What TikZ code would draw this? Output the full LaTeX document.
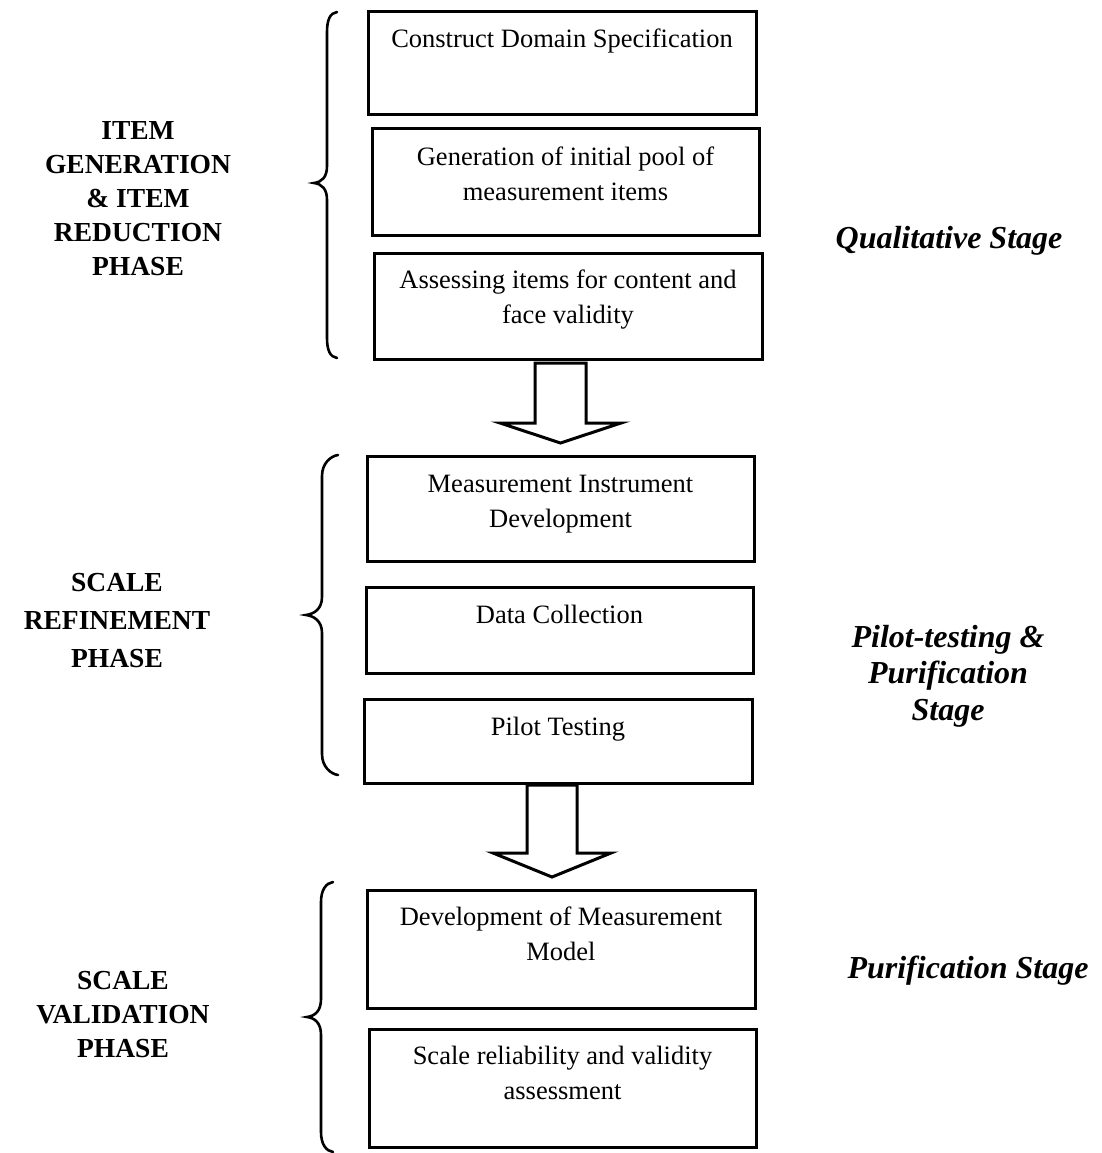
\documentclass[tikz,border=0pt]{standalone}
\usepackage{fontspec}
\setmainfont{Liberation Serif}
\usetikzlibrary{calc}
\begin{document}
\begin{tikzpicture}[x=1pt,y=-1pt,
  stepbox/.style={draw, line width=3pt, inner sep=0pt, outer sep=0pt, anchor=north west},
  boxtext/.style={anchor=base, align=center, inner sep=0pt, font=\fontsize{26.5}{35}\selectfont},
  phase/.style={anchor=base, align=center, inner sep=0pt, font=\fontsize{27.5}{34}\selectfont\bfseries},
  stage/.style={anchor=base, align=center, inner sep=0pt, font=\fontsize{32}{36.5}\selectfont\bfseries\itshape},
  brace/.style={line width=2.6pt, line cap=round},
  blockarrow/.style={draw, line width=3pt, line join=miter, fill=white}]
\useasboundingbox (0,0) rectangle (1102,1153);

% ---- step boxes ----
\node[stepbox, minimum width=388pt, minimum height=103pt] (b1) at (368,12) {};
\node[stepbox, minimum width=387pt, minimum height=106pt] (b2) at (372,129) {};
\node[stepbox, minimum width=388pt, minimum height=106pt] (b3) at (374,253) {};
\node[stepbox, minimum width=387pt, minimum height=105pt] (b4) at (367,456) {};
\node[stepbox, minimum width=387pt, minimum height=86pt]  (b5) at (366,587) {};
\node[stepbox, minimum width=388pt, minimum height=84pt]  (b6) at (364,699) {};
\node[stepbox, minimum width=388pt, minimum height=118pt] (b7) at (367,890) {};
\node[stepbox, minimum width=387pt, minimum height=118pt] (b8) at (369,1029) {};

% ---- box texts, set at the top of each box (anchor = baseline of last line) ----
\node[boxtext] (t1) at ([yshift=-36pt]b1.north) {Construct Domain Specification};
\node[boxtext] (t2) at ([yshift=-71pt]b2.north) {Generation of initial pool of\\measurement items};
\node[boxtext] (t3) at ([yshift=-70pt]b3.north) {Assessing items for content and\\face validity};
\node[boxtext] (t4) at ([yshift=-71pt]b4.north) {Measurement Instrument\\Development};
\node[boxtext] (t5) at ([yshift=-36pt]b5.north) {Data Collection};
\node[boxtext] (t6) at ([yshift=-36pt]b6.north) {Pilot Testing};
\node[boxtext] (t7) at ([yshift=-70pt]b7.north) {Development of Measurement\\Model};
\node[boxtext] (t8) at ([yshift=-70pt]b8.north) {Scale reliability and validity\\assessment};

% ---- block arrows between the phases ----
\coordinate (a1s) at (560.5,363);
\coordinate (a1e) at (560.5,443);
\draw[blockarrow] let \p1=(a1s), \p2=(a1e) in
  (\x1-25.5pt,\y1) -- (\x1+25.5pt,\y1) -- (\x1+25.5pt,\y2+20pt) -- (\x1+60.5pt,\y2+20pt)
  -- (\x2,\y2) -- (\x1-60.5pt,\y2+20pt) -- (\x1-25.5pt,\y2+20pt) -- cycle;
\coordinate (a2s) at (552,785);
\coordinate (a2e) at (552,877);
\draw[blockarrow] let \p1=(a2s), \p2=(a2e) in
  (\x1-25pt,\y1) -- (\x1+25pt,\y1) -- (\x1+25pt,\y2+24pt) -- (\x1+59pt,\y2+24pt)
  -- (\x2,\y2) -- (\x1-59pt,\y2+24pt) -- (\x1-25pt,\y2+24pt) -- cycle;

% ---- curly braces ----
\draw[brace] (337,12) .. controls (330,13) and (327,20) .. (327,32) -- (327,166)
  .. controls (327,177) and (322,182) .. (314,183)
  .. controls (322,184) and (327,189) .. (327,200) -- (327,338)
  .. controls (327,350) and (330,357) .. (337,358);
\draw[brace] (338,455) .. controls (331,456) and (322,463) .. (322,476) -- (322,597)
  .. controls (322,609) and (314,614) .. (306,615)
  .. controls (314,616) and (322,621) .. (322,633) -- (322,754)
  .. controls (322,767) and (331,774) .. (338,775);
\draw[brace] (333,882) .. controls (326,883) and (321,890) .. (321,902) -- (321,999)
  .. controls (321,1011) and (315,1016) .. (307,1017)
  .. controls (315,1018) and (321,1023) .. (321,1035) -- (321,1132)
  .. controls (321,1144) and (326,1151) .. (333,1152);

% ---- phase labels (anchor = baseline of last line) ----
\node[phase] (p1) at (138,275) {ITEM\\GENERATION\\\& ITEM\\REDUCTION\\PHASE};
\node[phase, font=\fontsize{27.5}{38}\selectfont\bfseries] (p2) at (117,667) {SCALE\\REFINEMENT\\PHASE};
\node[phase] (p3) at (123,1057) {SCALE\\VALIDATION\\PHASE};

% ---- stage labels ----
\node[stage] (s1) at (949,248) {Qualitative Stage};
\node[stage] (s2) at (948,720) {Pilot-testing \&\\Purification\\Stage};
\node[stage] (s3) at (968,978) {Purification Stage};
\end{tikzpicture}
\end{document}
